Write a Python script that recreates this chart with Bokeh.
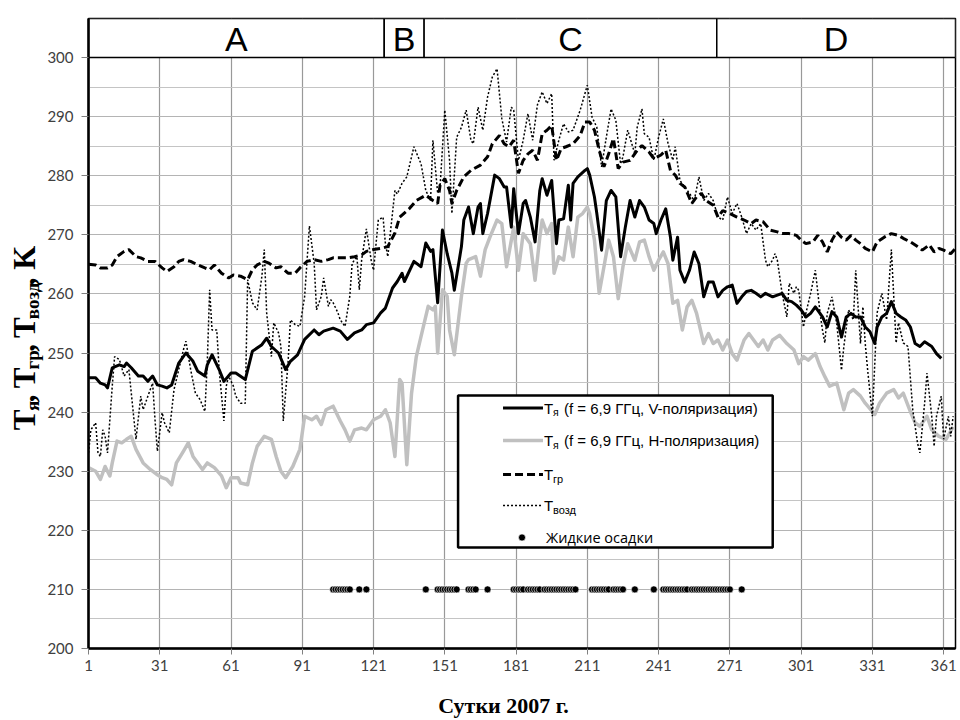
import math
from bokeh.plotting import figure
from bokeh.layouts import row, column
from bokeh.models import Range1d, FixedTicker, Label
from bokeh.core.properties import value
from bokeh.embed import file_html
from bokeh.resources import INLINE

# ---------------- data ----------------
x_ticks = [1, 31, 61, 91, 121, 151, 181, 211, 241, 271, 301, 331, 361]
y_ticks = [200, 210, 220, 230, 240, 250, 260, 270, 280, 290, 300]
y_minor = [205, 215, 225, 235, 245, 255, 265, 275, 285, 295]

band_labels = ["A", "B", "C", "D"]
band_starts = [1, 125.5, 142.3, 265.5]
band_ends = [125.5, 142.3, 265.5, 366]

# T_я, V polarisation
v_days = [1, 4, 6, 8, 9, 11, 14, 16, 17, 19, 22, 24, 26, 28, 30, 32, 34, 36, 39, 42,
          45, 47, 50, 51, 53, 56, 58, 61, 63, 67, 70, 74, 76, 78, 81, 84, 86, 89, 92, 96,
          98, 100, 104, 107, 110, 113, 116, 118, 121, 124, 126, 129, 131, 133, 134, 138, 141, 143, 145, 146,
          148, 150, 152, 154, 155, 158, 159, 161, 163, 165, 166, 167, 169, 172, 174, 176, 177, 179, 180, 182,
          184, 185, 187, 189, 191, 192, 194, 196, 198, 199, 201, 203, 204, 205, 207, 210, 211, 212, 214, 215,
          217, 219, 221, 223, 225, 227, 229, 231, 233, 235, 237, 239, 240, 242, 244, 246, 247, 249, 250, 252,
          254, 256, 258, 260, 262, 264, 266, 268, 270, 272, 274, 276, 278, 280, 282, 284, 286, 289, 291, 293,
          295, 297, 299, 301, 303, 305, 307, 310, 312, 314, 316, 318, 320, 322, 324, 326, 328, 330, 332, 333,
          335, 337, 339, 341, 343, 345, 347, 349, 351, 353, 356, 358, 360]
v_vals = [245.8, 245.8, 244.9, 244.6, 244.1, 247.5, 248.0, 247.7, 248.3, 247.5, 246.1, 246.1, 245.2, 246.1, 244.6, 244.4, 244.1, 244.6, 248.3, 250.0,
          248.6, 246.9, 246.1, 248.0, 249.7, 247.2, 245.2, 246.6, 246.6, 245.5, 250.3, 251.4, 252.5, 251.1, 250.0, 247.2, 248.6, 249.7, 252.3, 253.9,
          253.1, 253.7, 254.2, 253.7, 252.3, 253.4, 253.9, 254.8, 255.1, 256.8, 257.6, 261.0, 262.1, 263.5, 262.1, 265.5, 264.6, 268.6, 267.2, 267.5,
          258.5, 270.8, 266.8, 263.5, 260.6, 268.0, 272.5, 274.7, 270.2, 274.7, 275.3, 270.2, 273.6, 280.1, 279.5, 278.1, 278.1, 271.3, 277.8, 270.2,
          275.3, 275.8, 273.0, 268.8, 277.5, 279.5, 276.7, 279.2, 268.5, 272.5, 272.7, 278.4, 272.5, 278.7, 279.8, 280.9, 281.2, 280.1, 276.4, 273.6,
          267.4, 275.8, 277.5, 276.4, 266.3, 271.3, 275.8, 273.0, 275.8, 274.7, 272.5, 271.9, 270.2, 272.5, 274.4, 269.6, 265.7, 269.6, 264.0, 262.0,
          264.0, 267.1, 265.1, 259.5, 262.0, 262.0, 259.5, 260.6, 261.2, 261.5, 258.4, 259.5, 260.4, 260.6, 260.1, 259.5, 260.1, 259.5, 259.8, 260.1,
          258.9, 258.7, 258.1, 257.3, 256.1, 256.7, 257.8, 256.1, 254.4, 257.0, 256.1, 252.7, 256.1, 256.7, 256.1, 256.1, 254.4, 253.6, 251.6, 254.4,
          256.1, 256.7, 258.7, 256.7, 256.1, 255.6, 254.4, 251.6, 251.1, 251.9, 251.1, 249.9, 249.1]

# T_я, H polarisation
h_days = [1, 4, 6, 8, 10, 11, 13, 15, 17, 19, 21, 24, 27, 30, 32, 34, 36, 38, 41, 43,
          45, 47, 49, 51, 54, 57, 59, 61, 64, 65, 68, 70, 72, 75, 78, 80, 82, 84, 87, 90,
          92, 95, 97, 99, 101, 104, 107, 109, 111, 113, 116, 118, 121, 124, 126, 128, 130, 132, 133, 135,
          137, 139, 141, 144, 146, 147, 148, 150, 152, 153, 155, 158, 160, 161, 164, 166, 168, 170, 173, 175,
          177, 180, 182, 184, 187, 189, 191, 192, 194, 196, 197, 199, 201, 203, 205, 207, 209, 211, 212, 214,
          216, 218, 220, 222, 224, 226, 228, 231, 233, 235, 237, 239, 241, 243, 245, 247, 249, 251, 253, 255,
          257, 260, 262, 264, 266, 268, 270, 272, 274, 277, 279, 281, 283, 285, 287, 289, 292, 295, 298, 300,
          302, 304, 307, 309, 311, 313, 316, 319, 321, 323, 326, 328, 332, 334, 337, 340, 342, 344, 347, 349,
          351, 354, 356, 359, 362, 365]
h_vals = [230.6, 230.0, 228.6, 230.8, 229.2, 231.4, 235.1, 234.8, 235.4, 235.9, 233.7, 231.4, 230.3, 229.4, 228.9, 228.6, 227.7, 231.4, 233.4, 234.8,
          232.5, 231.4, 230.3, 231.4, 230.6, 229.2, 227.2, 228.9, 228.9, 228.0, 227.7, 231.4, 234.2, 235.9, 235.4, 232.5, 230.0, 228.9, 230.8, 233.7,
          239.3, 238.7, 239.3, 237.9, 240.4, 241.0, 238.5, 237.0, 235.1, 237.0, 237.3, 237.0, 238.7, 239.3, 240.4, 238.2, 232.5, 245.5, 244.9, 231.1,
          243.2, 249.4, 252.8, 257.9, 257.3, 257.9, 250.0, 260.7, 259.6, 253.9, 249.7, 259.6, 265.2, 265.8, 266.3, 263.0, 267.5, 269.6, 272.5, 271.9,
          264.6, 271.3, 264.0, 270.2, 268.5, 262.3, 269.6, 272.5, 270.2, 271.9, 263.5, 266.3, 265.7, 271.3, 266.3, 273.0, 273.6, 274.7, 273.6, 269.1,
          260.1, 264.6, 269.1, 266.3, 259.2, 264.6, 268.5, 265.7, 268.8, 269.1, 266.3, 264.0, 265.7, 267.1, 265.1, 258.4, 258.9, 253.9, 257.8, 258.9,
          256.7, 251.6, 253.3, 251.6, 252.2, 250.5, 252.2, 249.9, 248.8, 252.2, 253.3, 252.2, 251.1, 252.2, 250.5, 252.2, 253.0, 251.6, 250.5, 248.2,
          249.4, 248.8, 249.9, 247.7, 246.0, 244.4, 244.9, 240.4, 243.2, 243.8, 242.7, 241.5, 239.6, 241.5, 243.2, 243.8, 242.4, 243.2, 240.1, 238.2,
          237.6, 239.3, 237.0, 235.9, 235.4, 237.5]

# T_гр (ground)
g_days = [1, 4, 6, 9, 11, 13, 16, 18, 21, 23, 26, 29, 32, 34, 37, 39, 41, 44, 47, 50,
          52, 54, 57, 60, 62, 65, 68, 70, 72, 75, 77, 80, 82, 85, 88, 90, 93, 96, 99, 102,
          104, 107, 110, 113, 116, 118, 121, 124, 127, 130, 132, 136, 139, 143, 146, 148, 149, 151, 153, 154,
          156, 159, 162, 166, 169, 171, 174, 176, 178, 180, 182, 184, 186, 188, 190, 192, 194, 196, 198, 200,
          202, 205, 208, 210, 212, 214, 216, 218, 220, 222, 224, 226, 229, 232, 234, 237, 239, 242, 244, 246,
          248, 250, 252, 255, 257, 259, 261, 264, 266, 268, 271, 274, 277, 280, 282, 285, 288, 291, 293, 296,
          299, 301, 303, 306, 308, 310, 312, 314, 316, 318, 320, 322, 324, 326, 328, 331, 333, 336, 339, 342,
          344, 347, 350, 352, 355, 357, 359, 361, 364, 366]
g_vals = [265.0, 264.9, 264.4, 264.4, 264.9, 266.3, 267.2, 267.5, 266.3, 266.1, 265.5, 265.5, 264.4, 263.8, 264.6, 265.5, 265.8, 265.5, 264.9, 264.4,
          264.1, 264.9, 263.5, 262.7, 263.2, 263.0, 262.4, 264.1, 264.9, 265.5, 265.2, 264.4, 264.6, 263.5, 263.5, 264.4, 265.5, 265.8, 265.5, 265.8,
          266.1, 266.1, 266.1, 266.3, 266.6, 267.2, 267.5, 267.7, 268.0, 270.3, 273.0, 274.4, 275.8, 276.7, 275.8, 275.3, 278.4, 279.5, 277.5, 275.3,
          277.5, 279.8, 280.9, 281.8, 283.2, 285.4, 286.8, 285.4, 284.9, 286.0, 280.4, 282.6, 283.7, 284.3, 282.6, 287.1, 287.7, 288.5, 282.6, 284.6,
          284.9, 285.4, 286.8, 289.1, 289.1, 287.7, 284.3, 281.5, 283.7, 286.3, 281.2, 282.3, 282.6, 284.3, 285.1, 284.0, 282.9, 283.5, 284.3, 280.9,
          280.1, 278.7, 278.1, 275.3, 276.4, 277.0, 275.8, 275.0, 273.0, 274.1, 273.6, 273.0, 272.5, 271.9, 272.5, 272.2, 270.8, 270.5, 270.2, 270.2,
          269.9, 269.1, 268.5, 268.8, 269.9, 268.8, 267.1, 269.1, 270.5, 269.6, 269.1, 269.9, 269.1, 268.5, 267.7, 267.1, 268.8, 269.6, 270.2, 269.9,
          269.4, 268.8, 268.0, 267.4, 268.3, 267.1, 267.7, 267.4, 266.8, 267.7]

# T_возд (air)
a_days = [1, 2, 4, 5, 6, 7, 8, 9, 11, 12, 14, 16, 18, 20, 21, 23, 24, 26, 28, 29,
          30, 32, 33, 35, 37, 39, 41, 42, 44, 46, 48, 50, 51, 52, 53, 55, 56, 58, 59, 60,
          62, 63, 65, 67, 68, 70, 72, 74, 75, 76, 78, 79, 81, 82, 83, 85, 86, 88, 90, 92,
          94, 96, 97, 99, 100, 102, 103, 104, 106, 107, 109, 111, 112, 114, 115, 116, 118, 120, 121, 123,
          125, 126, 127, 130, 131, 133, 135, 138, 141, 143, 145, 146, 148, 149, 151, 153, 154, 156, 158, 160,
          162, 163, 165, 167, 169, 171, 173, 175, 177, 179, 180, 182, 184, 186, 188, 190, 192, 194, 196, 197,
          199, 201, 203, 205, 208, 211, 213, 215, 217, 219, 221, 223, 225, 226, 228, 231, 232, 234, 235, 237,
          239, 241, 243, 245, 247, 248, 250, 252, 254, 256, 258, 260, 262, 264, 266, 268, 270, 272, 274, 276,
          278, 280, 282, 284, 286, 287, 289, 290, 291, 293, 295, 296, 298, 299, 300, 302, 303, 305, 307, 309,
          310, 311, 312, 314, 316, 318, 319, 321, 323, 324, 326, 327, 328, 329, 331, 333, 335, 337, 339, 341,
          342, 344, 346, 348, 350, 351, 353, 354, 356, 357, 358, 360, 361, 363, 364, 365]
a_vals = [233.1, 237.0, 238.2, 233.1, 232.5, 237.0, 235.9, 233.1, 244.4, 249.4, 248.9, 246.1, 247.2, 239.3, 235.4, 242.7, 240.4, 242.7, 244.9, 238.7,
          233.4, 239.9, 238.2, 236.5, 243.8, 247.2, 250.6, 252.0, 247.2, 243.2, 242.1, 240.1, 248.3, 260.7, 253.9, 253.9, 247.2, 238.5, 244.4, 246.1,
          244.4, 242.7, 241.5, 241.5, 262.4, 258.5, 257.3, 263.0, 267.5, 256.8, 249.4, 255.1, 253.4, 251.1, 238.5, 248.3, 255.6, 254.8, 254.5, 259.6,
          271.5, 265.2, 257.3, 259.6, 262.7, 257.9, 259.0, 258.5, 256.8, 255.6, 254.5, 259.6, 265.2, 266.3, 260.7, 265.8, 271.0, 265.7, 264.0, 272.5,
          273.0, 268.5, 266.3, 277.5, 276.9, 278.7, 279.8, 284.9, 282.0, 277.5, 275.8, 286.0, 277.0, 278.1, 291.1, 282.6, 273.6, 286.5, 288.2, 291.1,
          286.0, 285.4, 291.6, 287.7, 293.3, 296.7, 298.1, 289.7, 285.7, 291.6, 291.1, 282.6, 286.0, 290.5, 286.0, 292.0, 294.2, 292.2, 293.9, 282.6,
          286.0, 288.8, 287.4, 287.7, 291.1, 295.3, 289.9, 288.2, 281.5, 286.5, 291.3, 289.4, 282.0, 283.2, 287.7, 283.7, 288.2, 291.3, 287.1, 286.5,
          282.6, 286.5, 289.6, 285.4, 282.6, 284.9, 279.2, 278.1, 277.0, 275.8, 279.8, 275.8, 277.0, 275.8, 273.0, 272.5, 276.4, 273.6, 275.3, 273.0,
          270.2, 271.9, 270.8, 271.9, 265.7, 264.6, 265.7, 266.8, 265.7, 260.1, 256.1, 261.8, 260.1, 261.2, 260.6, 254.4, 256.7, 260.1, 264.0, 256.7,
          253.9, 251.7, 256.7, 259.5, 255.0, 247.1, 251.1, 257.3, 255.6, 264.0, 251.6, 257.8, 251.6, 247.2, 239.3, 256.8, 260.1, 255.6, 267.5, 251.7,
          255.1, 251.7, 251.1, 240.4, 234.8, 233.1, 241.5, 246.6, 239.3, 234.2, 239.3, 242.7, 235.4, 239.3, 235.9, 239.3]

# liquid precipitation days (plotted at 210 K)
rain_level = 210
rain_days = [104, 105, 106, 107, 108, 109, 110, 111, 115, 118,
             143, 148, 149, 150, 151, 152, 153, 154, 155, 156, 161, 162, 163, 164, 169,
             180, 181, 182, 183, 184, 186, 187, 188, 189, 190, 191,
             193, 194, 195, 196, 197, 198, 199, 200, 201, 202, 203, 204, 205, 206,
             213, 214, 215, 216, 217, 218, 219, 220, 222, 223, 224, 225, 226, 231, 239,
             243, 244, 245, 246, 247, 248, 249, 250, 251, 252, 253,
             255, 256, 257, 258, 259, 260, 261, 262, 263, 264, 265, 266, 267, 268, 269, 270, 271, 276]

x_title = "Сутки 2007 г."

# ---------------- layout ----------------
W, H = 960, 720
WL = 44                      # left strip carrying the rotated y title
HB = 30                      # bottom strip carrying the x title
HM = H - HB                  # height of the main plot
ML, MR, MT = 87, 5, 18
FRAME_BOTTOM = 648
MB = HM - FRAME_BOTTOM
X0, X1 = 1, 366
Y0, Y1 = 200, 306.6
FW, FH = W - ML - MR, FRAME_BOTTOM - MT
DPX = (X1 - X0) / FW   # days per pixel
VPX = (Y1 - Y0) / FH   # kelvin per pixel


def dx(px):      # canvas px (x) -> day
    return X0 + (px - ML) * DPX


def vy(py):      # canvas px (y, from top) -> value
    return Y0 + (FRAME_BOTTOM - py) * VPX


p = figure(width=W - WL, height=HM, x_range=Range1d(X0, X1), y_range=Range1d(Y0, Y1),
           output_backend="svg", toolbar_location=None,
           min_border_left=ML - WL, min_border_right=MR, min_border_top=MT, min_border_bottom=MB,
           background_fill_color="white", border_fill_color="white")
p.outline_line_color = "black"
p.outline_line_width = 1.5

p.xaxis.ticker = FixedTicker(ticks=x_ticks)
p.yaxis.ticker = FixedTicker(ticks=y_ticks, minor_ticks=y_minor)
for ax in (p.xaxis, p.yaxis):
    ax.axis_line_color = "black"
    ax.axis_line_width = 2.5
    ax.major_tick_line_color = "#808080"
    ax.major_tick_in = 0
    ax.minor_tick_line_color = None
    ax.major_label_text_font = "Lato"
    ax.major_label_text_font_size = "15px"
    ax.major_label_text_color = "#404040"
p.xaxis.major_tick_out = 6
p.yaxis.major_tick_out = 7
p.xaxis.major_label_standoff = 5
p.yaxis.major_label_standoff = 8

p.xgrid.grid_line_color = "#999999"
p.xgrid.grid_line_width = 1.2
p.ygrid.grid_line_color = "#b4b4b4"
p.ygrid.minor_grid_line_color = "#c4c4c4"
p.ygrid.grid_line_width = 1.2
p.ygrid.minor_grid_line_width = 1.2

# ---------------- series ----------------
p.line(h_days, h_vals, line_color="#c0c0c0", line_width=3.5, line_join="round")
p.line(g_days, g_vals, line_color="black", line_width=3, line_dash="8 4")
p.line(a_days, a_vals, line_color="black", line_width=1.5, line_dash="2 2")
p.line(v_days, v_vals, line_color="black", line_width=3, line_join="round")
p.scatter(rain_days, [rain_level] * len(rain_days), size=7, fill_color="black",
          line_color="white", line_width=0.6)

# ---------------- season band ----------------
p.quad(left=band_starts, right=band_ends, bottom=300, top=Y1,
       fill_color="white", line_color="black", line_width=1.5)
p.text(x=[(a + b) / 2 for a, b in zip(band_starts, band_ends)], y=[(300 + Y1) / 2 - 0.2] * 4,
       text=band_labels, text_align="center", text_baseline="middle",
       text_font=value("Liberation Sans"), text_font_size="34px", text_color="black")

# ---------------- legend (custom, with subscripts) ----------------
p.quad(left=[dx(457)], right=[dx(772)], top=[vy(395)], bottom=[vy(547)],
       fill_color="white", line_color="black", line_width=2.5)
rows = [vy(407.5), vy(440), vy(474), vy(505), vy(537)]
lx0, lx1, tx = dx(502), dx(542), dx(543)
p.line([lx0, lx1], [rows[0]] * 2, line_color="black", line_width=3)
p.line([lx0, lx1], [rows[1]] * 2, line_color="#c0c0c0", line_width=3.5)
p.line([lx0, lx1], [rows[2]] * 2, line_color="black", line_width=3, line_dash="8 4")
p.line([lx0, lx1], [rows[3]] * 2, line_color="black", line_width=1.5, line_dash="2 2")
p.scatter([dx(521)], [rows[4]], size=7, fill_color="black", line_color="white", line_width=0.6)

SUBDY = 4 * VPX


def lab(x, y, text, size, font="Liberation Sans", xo=0, **kw):
    p.add_layout(Label(x=x, y=y, text=text, x_offset=xo, text_font=font,
                       text_font_size=size, text_baseline="middle",
                       text_color="black", **kw))


legend_rows = [("я", "(f = 6,9 ГГц, V-поляризация)"),
               ("я", "(f = 6,9 ГГц, H-поляризация)"),
               ("гр", ""),
               ("возд", "")]
for i, (sub, rest) in enumerate(legend_rows):
    lab(tx, rows[i], "T", "15px")
    lab(tx, rows[i] - SUBDY, sub, "11px" if i >= 2 else "10.5px", xo=9)
    if rest:
        lab(tx, rows[i], rest, "15px", xo=20)
lab(tx, rows[4], "Жидкие осадки", "14.5px", font="Open Sans", xo=2)


def strip(w, h):
    f = figure(width=w, height=h, x_range=Range1d(0, w), y_range=Range1d(0, h),
               output_backend="svg", toolbar_location=None,
               x_axis_location=None, y_axis_location=None,
               min_border_left=0, min_border_right=0, min_border_top=0, min_border_bottom=0,
               background_fill_color="white", border_fill_color="white")
    f.grid.visible = False
    f.outline_line_color = None
    return f


# ---------------- rotated y title with subscripts (left strip) ----------------
t = strip(WL, HM)
MS, SS = 31, 19
pieces = [("T", False), ("я", True), (", ", False), ("T", False), ("гр", True),
          (", ", False), ("T", False), ("возд", True), (", K", False)]
wmain = {"T": 0.667, ",": 0.25, " ": 0.25, "K": 0.778}
wsub = {"я": 0.52, "г": 0.44, "р": 0.556, "в": 0.52, "о": 0.5, "з": 0.43, "д": 0.54}
pos_py = 450.0          # bottom end of the title (px from top)
main_mid_x = 24.0       # centre line of the main-size pieces
sub_mid_x = 32.0        # centre line of the subscripts
for txt, sub in pieces:
    size = SS if sub else MS
    table = wsub if sub else wmain
    length = sum(table.get(c, 0.5) for c in txt) * size
    t.text(x=[sub_mid_x if sub else main_mid_x], y=[HM - (pos_py - length / 2)],
           text=[txt], angle=math.pi / 2,
           text_align="center", text_baseline="middle",
           text_font=value("Liberation Serif"), text_font_style="bold",
           text_font_size=f"{size}px", text_color="black")
    pos_py -= length

# ---------------- x title (bottom strip) ----------------
b = strip(W, HB)
b.text(x=[503], y=[H - 705], text=[x_title], text_align="center", text_baseline="middle",
       text_font=value("Liberation Serif"), text_font_style="bold",
       text_font_size="22px", text_color="black")

layout = column(row(t, p), b)
open("out.html", "w").write(file_html(layout, INLINE))
